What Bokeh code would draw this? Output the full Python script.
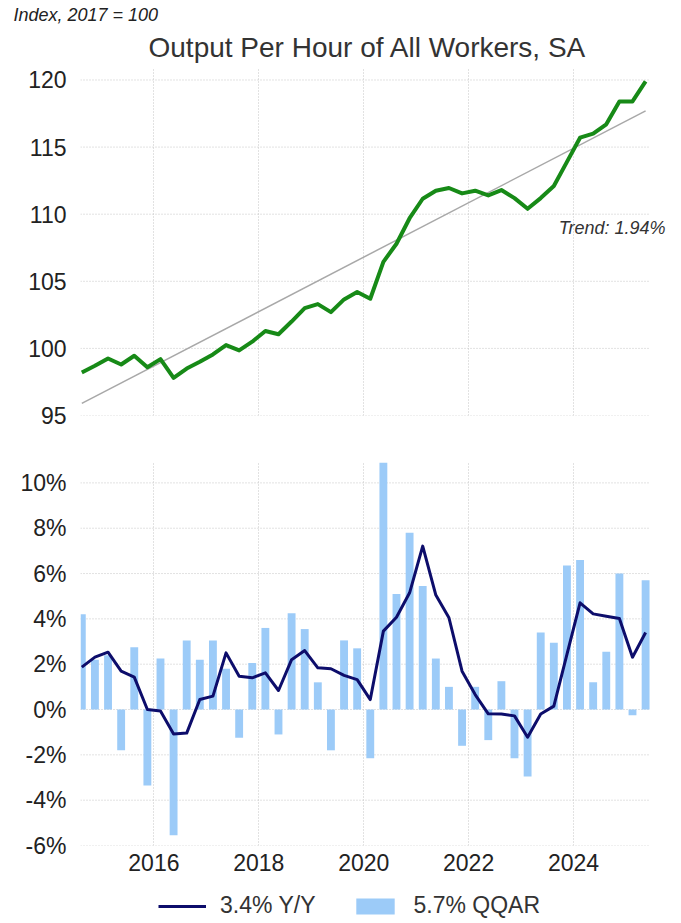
from bokeh.plotting import figure
from bokeh.models import (ColumnDataSource, Title, Label, Legend, LegendItem,
                          FixedTicker, PrintfTickFormatter, Range1d)
from bokeh.layouts import column
from bokeh.embed import file_html
from bokeh.resources import INLINE

# ---------------- data ----------------
quarters = [f"{y}Q{q}" for y in range(2014, 2026) for q in range(1, 5)][2:46]  # 2014Q3 .. 2025Q2

output_index = [98.2, 98.7, 99.25, 98.8, 99.45, 98.6, 99.2, 97.8, 98.5, 99.0,
                99.55, 100.25, 99.85, 100.5, 101.3, 101.05, 102.0, 103.0, 103.3, 102.7,
                103.65, 104.2, 103.7, 106.45, 107.8, 109.7, 111.15, 111.75, 111.95, 111.55,
                111.75, 111.4, 111.8, 111.2, 110.4, 111.2, 112.1, 113.9, 115.7, 116.0,
                116.7, 118.4, 118.4, 119.9]

qqar = [4.2, 2.2, 2.4, -1.8, 2.75, -3.35, 2.25, -5.55, 3.05, 2.2,
        3.05, 1.8, -1.25, 2.05, 3.6, -1.1, 4.25, 3.55, 1.2, -1.8,
        3.05, 2.7, -2.15, 10.9, 5.1, 7.8, 5.45, 2.25, 1.0, -1.6,
        1.0, -1.35, 1.25, -2.15, -2.95, 3.4, 2.95, 6.35, 6.6, 1.2,
        2.55, 6.0, -0.25, 5.7]

yoy = [1.87, 2.31, 2.53, 1.69, 1.43, 0.0, -0.07, -1.08, -1.04, 0.44,
       0.59, 2.5, 1.47, 1.4, 1.62, 0.84, 2.2, 2.6, 1.84, 1.8,
       1.51, 1.32, 0.44, 3.46, 4.07, 5.15, 7.21, 5.05, 4.05, 1.69,
       0.66, -0.19, -0.2, -0.28, -1.22, -0.2, 0.15, 2.43, 4.71, 4.22,
       4.12, 4.02, 2.31, 3.4]

trend_values = [95.9, 117.7]          # trend line at first and last quarter
trend_label = "Trend: 1.94%"
year_ticks = [2016, 2018, 2020, 2022, 2024]
top_ticks = [95, 100, 105, 110, 115, 120]
bottom_ticks = [-6, -4, -2, 0, 2, 4, 6, 8, 10]

# quarter -> decimal year at mid-quarter
xq = [int(s[:4]) + (int(s[-1]) - 1) / 4 + 0.125 for s in quarters]

FONT = "Liberation Sans"
GRID = "#c4c4c4"
W = 681

src = ColumnDataSource(dict(x=xq, idx=output_index, qqar=qqar, yoy=yoy))

# horizontal mapping: the visible chart area runs from x=80 to x=648 px;
# frames extend to 670 px so the trend label is not clipped
x_rng = (2014.6, 2025.43)
L, R_VIS, R_FRAME = 80, 648, 670
px_per_year = (R_VIS - L) / (x_rng[1] - x_rng[0])
x_end = x_rng[0] + (R_FRAME - L) / px_per_year


def style(p, yticks):
    p.outline_line_color = None
    p.background_fill_color = "white"
    p.border_fill_color = "white"
    for ax in p.yaxis:
        ax.ticker = FixedTicker(ticks=yticks)
        ax.axis_line_color = None
        ax.major_tick_line_color = None
        ax.minor_tick_line_color = None
        ax.major_label_text_font = FONT
        ax.major_label_text_font_size = "23px"
        ax.major_label_text_color = "#222222"
        ax.major_label_standoff = 8
    for ax in p.xaxis:
        ax.ticker = FixedTicker(ticks=year_ticks)
        ax.formatter = PrintfTickFormatter(format="%d")
        ax.axis_line_color = None
        ax.major_tick_line_color = None
        ax.minor_tick_line_color = None
        ax.major_label_text_font = FONT
        ax.major_label_text_font_size = "23px"
        ax.major_label_text_color = "#222222"
        ax.major_label_standoff = 2
    p.xgrid.ticker = FixedTicker(ticks=year_ticks)
    p.xgrid.grid_line_color = GRID
    p.xgrid.grid_line_dash = "1 2"
    p.xgrid.grid_line_width = 1
    p.ygrid.visible = False
    # horizontal grid lines that stop at the visible chart edge
    p.segment(x0=[x_rng[0]] * len(yticks), x1=[x_rng[1]] * len(yticks),
              y0=yticks, y1=yticks, line_color=GRID, line_dash="1 2",
              line_width=1)


# ---------------- top panel ----------------
p1 = figure(width=W, height=440, output_backend="svg", toolbar_location=None,
            x_range=Range1d(x_rng[0], x_end), y_range=Range1d(95, 120.93),
            min_border_left=L, min_border_right=W - R_FRAME, min_border_top=67,
            min_border_bottom=25)
style(p1, top_ticks)
p1.xaxis.visible = False

p1.line([xq[0], xq[-1]], trend_values, line_color="#a8a8a8", line_width=1.5)
p1.line("x", "idx", source=src, line_color="#178a17", line_width=4,
        line_join="round")

p1.add_layout(Label(x=x_rng[0] + (665 - L) / px_per_year, y=109.0, text=trend_label,
                    text_align="right", text_baseline="middle", text_font=FONT,
                    text_font_size="18px", text_font_style="italic",
                    text_color="#333333"))

# title centred over the visible chart area (x = 80..648)
p1.add_layout(Title(text="Output Per Hour of All Workers, SA", align="left",
                    offset=68, text_font=FONT, text_font_size="28px",
                    text_font_style="normal", text_color="#333333", standoff=10),
              "above")
p1.add_layout(Title(text="Index, 2017 = 100", align="left", offset=-67,
                    text_font=FONT, text_font_size="18px", text_font_style="italic",
                    text_color="#222222", standoff=0), "above")

# ---------------- bottom panel ----------------
p2 = figure(width=W, height=445, output_backend="svg", toolbar_location=None,
            x_range=Range1d(x_rng[0], x_end), y_range=Range1d(-6, 10.9),
            min_border_left=L, min_border_right=W - R_FRAME, min_border_top=22,
            min_border_bottom=40)
style(p2, bottom_ticks)
p2.yaxis.formatter = PrintfTickFormatter(format="%d%%")

p2.vbar(x="x", top="qqar", bottom=0, width=0.15, source=src,
        fill_color="#9ccbf8", line_color=None)
p2.line("x", "yoy", source=src, line_color="#0d0d6b", line_width=3,
        line_join="round")

# ---------------- legend strip ----------------
p3 = figure(width=W, height=38, output_backend="svg", toolbar_location=None,
            x_range=Range1d(0, 1), y_range=Range1d(0, 1),
            x_axis_location=None, y_axis_location=None,
            min_border_left=L, min_border_right=W - R_FRAME, min_border_top=0,
            min_border_bottom=0)
p3.outline_line_color = None
p3.xgrid.visible = False
p3.ygrid.visible = False
# legend-only renderers (their single point is NaN, so nothing is drawn in the strip)
nan_src = ColumnDataSource(dict(x=[float("nan")], y=[float("nan")]))
leg_line = p3.line("x", "y", source=nan_src, line_color="#0d0d6b", line_width=3)
leg_bar = p3.vbar(x="x", top="y", bottom=0, width=0.1, source=nan_src,
                  fill_color="#9ccbf8", line_color=None)
legend = Legend(items=[LegendItem(label="3.4% Y/Y", renderers=[leg_line]),
                       LegendItem(label="5.7% QQAR", renderers=[leg_bar])],
                orientation="horizontal", location=(158 - L, 4),
                label_text_font=FONT, label_text_font_size="23px",
                label_text_color="#333333", glyph_width=48, glyph_height=20,
                label_height=20, label_standoff=14, spacing=36, padding=0, margin=0,
                border_line_color=None, background_fill_alpha=0)
p3.add_layout(legend, "center")

layout = column(p1, p2, p3, spacing=0)
open("out.html", "w").write(file_html(layout, INLINE))
